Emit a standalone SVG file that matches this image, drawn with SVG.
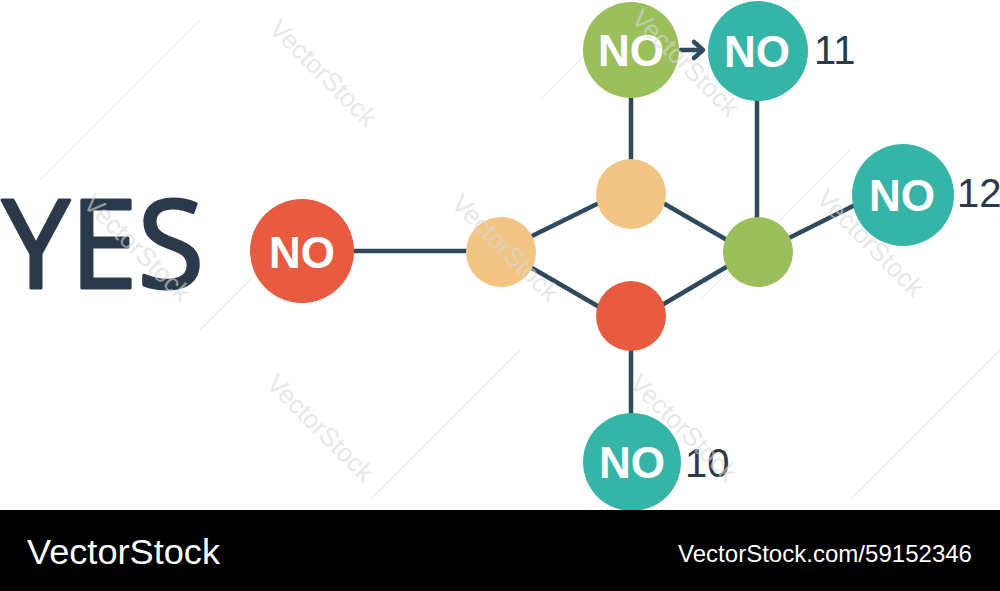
<svg xmlns="http://www.w3.org/2000/svg" width="1000" height="591" viewBox="0 0 1000 591">
  <style>
    .edge { stroke: #2f4a5f; stroke-width: 4.5; fill: none; stroke-linecap: round; }
    .lbl { font-family: "Liberation Sans", Arial, sans-serif; font-weight: bold; fill: #ffffff; font-size: 44px; text-anchor: middle; }
    .num { font-family: "Liberation Sans", Arial, sans-serif; fill: #2b3a4a; font-size: 40px; }
    .wm { font-family: "Liberation Sans", Arial, sans-serif; fill: #d9d9d9; font-size: 26px; opacity: 0.6; }
    .wl { stroke: #e6e6e6; stroke-width: 1; }
  </style>
  <rect width="1000" height="591" fill="#ffffff"/>

  <g id="watermark-lines">
    <line class="wl" x1="40" y1="180" x2="200" y2="20"/>
    <line class="wl" x1="200" y1="330" x2="330" y2="200"/>
    <line class="wl" x1="370" y1="500" x2="520" y2="350"/>
    <line class="wl" x1="540" y1="100" x2="700" y2="-60"/>
    <line class="wl" x1="700" y1="300" x2="850" y2="150"/>
    <line class="wl" x1="850" y1="500" x2="1000" y2="350"/>
  </g>

  <g id="connectors">
    <line class="edge" x1="353" y1="251" x2="466" y2="251"/>
    <line class="edge" x1="532" y1="236" x2="601" y2="202"/>
    <line class="edge" x1="532" y1="268" x2="601" y2="308"/>
    <line class="edge" x1="663" y1="203" x2="727" y2="240"/>
    <line class="edge" x1="662" y1="305" x2="728" y2="266"/>
    <line class="edge" x1="789" y1="238" x2="855" y2="205"/>
    <line class="edge" x1="757" y1="100" x2="757" y2="217"/>
    <line class="edge" x1="631" y1="98" x2="631" y2="160"/>
    <line class="edge" x1="631" y1="350" x2="631" y2="413"/>
    <line class="edge" x1="681" y1="50" x2="702" y2="50"/>
    <polyline class="edge" points="694,42 703,50 694,58" stroke-linejoin="round"/>
  </g>

  <g id="yes">
    <text x="2" y="288" font-family="'Open Sans', 'Liberation Sans', sans-serif" font-size="122" fill="#2b3a4a" stroke="#2b3a4a" stroke-width="3" stroke-linejoin="round" textLength="202" lengthAdjust="spacingAndGlyphs">YES</text>
  </g>

  <g id="node-no-left">
    <circle cx="302" cy="251" r="52" fill="#e85b40"/>
    <text class="lbl" x="302" y="268">NO</text>
  </g>

  <g id="node-orange-left">
    <circle cx="501" cy="252" r="35" fill="#f2c585"/>
  </g>
  <g id="node-orange-top">
    <circle cx="631" cy="194" r="35" fill="#f2c585"/>
  </g>
  <g id="node-red-bottom">
    <circle cx="631" cy="316" r="35" fill="#e85b40"/>
  </g>
  <g id="node-green-right">
    <circle cx="758" cy="252" r="35" fill="#9bbf5b"/>
  </g>

  <g id="node-no-green-top">
    <circle cx="631" cy="50" r="48" fill="#9bbf5b"/>
    <text class="lbl" x="631" y="66">NO</text>
  </g>

  <g id="node-no-11">
    <circle cx="758" cy="51" r="50" fill="#35b5a8"/>
    <text class="lbl" x="757" y="67">NO</text>
    <text class="num" x="814" y="64">11</text>
  </g>

  <g id="node-no-12">
    <circle cx="903" cy="195" r="51" fill="#35b5a8"/>
    <text class="lbl" x="902" y="211">NO</text>
    <text class="num" x="957" y="207" font-size="30">12</text>
  </g>

  <g id="node-no-10">
    <circle cx="632" cy="462" r="49" fill="#35b5a8"/>
    <text class="lbl" x="632" y="478">NO</text>
    <text class="num" x="685" y="477" fill="#2f4a5f">10</text>
  </g>

  <g id="watermarks">
    <text class="wm" transform="translate(268,30) rotate(45)">VectorStock</text>
    <text class="wm" transform="translate(450,205) rotate(45)">VectorStock</text>
    <text class="wm" transform="translate(82,205) rotate(45)">VectorStock</text>
    <text class="wm" transform="translate(265,385) rotate(45)">VectorStock</text>
    <text class="wm" transform="translate(630,20) rotate(45)">VectorStock</text>
    <text class="wm" transform="translate(815,200) rotate(45)">VectorStock</text>
    <text class="wm" transform="translate(628,385) rotate(45)">VectorStock</text>
  </g>

  <g id="footer">
    <rect x="0" y="510" width="1000" height="81" fill="#000000"/>
    <text x="27" y="564" font-family="'Liberation Sans', Arial, sans-serif" font-size="35" fill="#ffffff" textLength="193" lengthAdjust="spacingAndGlyphs">VectorStock</text>
    <text x="678" y="562" font-family="'Liberation Sans', Arial, sans-serif" font-size="24" fill="#ffffff" textLength="294" lengthAdjust="spacingAndGlyphs">VectorStock.com/59152346</text>
  </g>
</svg>
